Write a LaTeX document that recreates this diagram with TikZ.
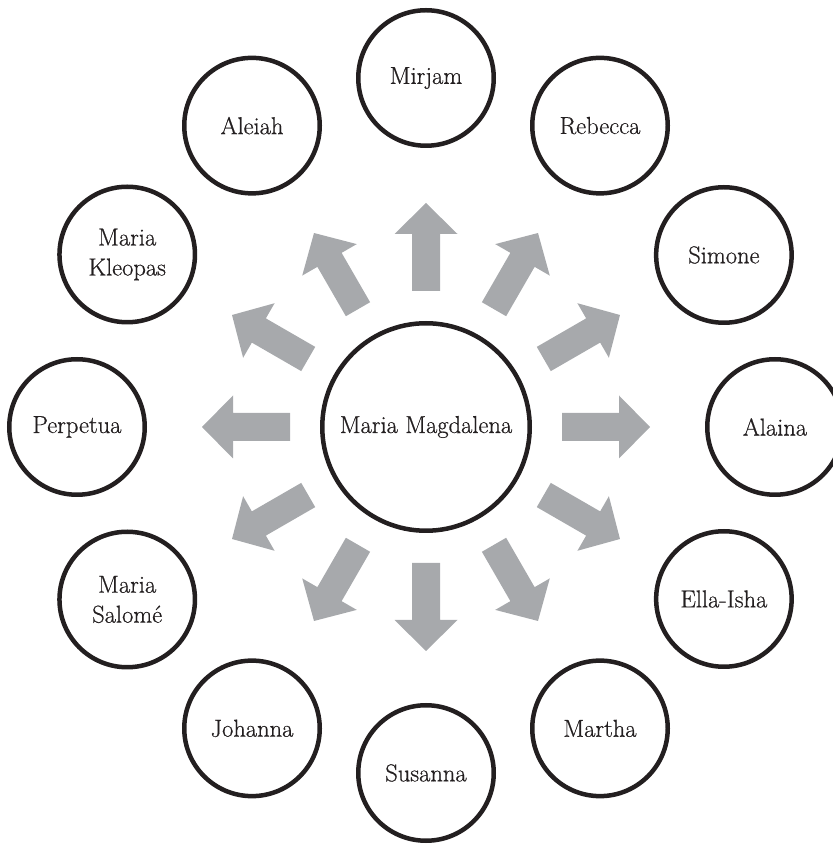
\documentclass[tikz,border=0pt]{standalone}
\usepackage{fontspec}
\setmainfont{Latin Modern Roman}[FakeBold=0.6]
\definecolor{ink}{HTML}{231F20}
\definecolor{arrowgray}{HTML}{A7A9AC}
\tikzset{
  outerc/.style={circle, draw=ink, line width=4.5pt, minimum size=135.5pt, inner sep=0pt, align=center, text=ink, font=\fontsize{24.5}{30}\selectfont},
  centerc/.style={circle, draw=ink, line width=4.5pt, minimum size=207.5pt, inner sep=0pt, align=center, text=ink, font=\fontsize{24.5}{30}\selectfont},
  blockarrow/.style={fill=arrowgray, draw=none}
}
\begin{document}
\begin{tikzpicture}[x=1pt,y=1pt]
\useasboundingbox (0,0) rectangle (833,844);
\clip (0,0) rectangle (833,844);
\begin{scope}[shift={(426,417)}]
  \node[centerc] (mm) at (0,0) {Maria Magdalena};
  \node[outerc] (mirjam)   at (90:349)  {Mirjam};
  \node[outerc] (rebecca)  at (60:348)  {Rebecca};
  \node[outerc] (simone)   at (30:344)  {Simone};
  \node[outerc] (alaina)   at (0:349)   {Alaina};
  \node[outerc] (ellaisha) at (-30:344) {Ella-Isha};
  \node[outerc] (martha)   at (-60:348) {Martha};
  \node[outerc] (susanna)  at (-90:346) {Susanna};
  \node[outerc] (johanna)  at (-120:348) {Johanna};
  \node[outerc] (salome)   at (-150:345) {Maria\\Salomé};
  \node[outerc] (perpetua) at (180:349) {Perpetua};
  \node[outerc] (kleopas)  at (150:345) {Maria\\Kleopas};
  \node[outerc] (aleiah)   at (120:348) {Aleiah};
  \foreach \a in {0,30,...,330}{
    \begin{scope}[rotate=\a]
      \fill[blockarrow] (136,-14) -- (193,-14) -- (193,-31.5) -- (224,0)
        -- (193,31.5) -- (193,14) -- (136,14) -- cycle;
    \end{scope}
  }
\end{scope}
\end{tikzpicture}
\end{document}
